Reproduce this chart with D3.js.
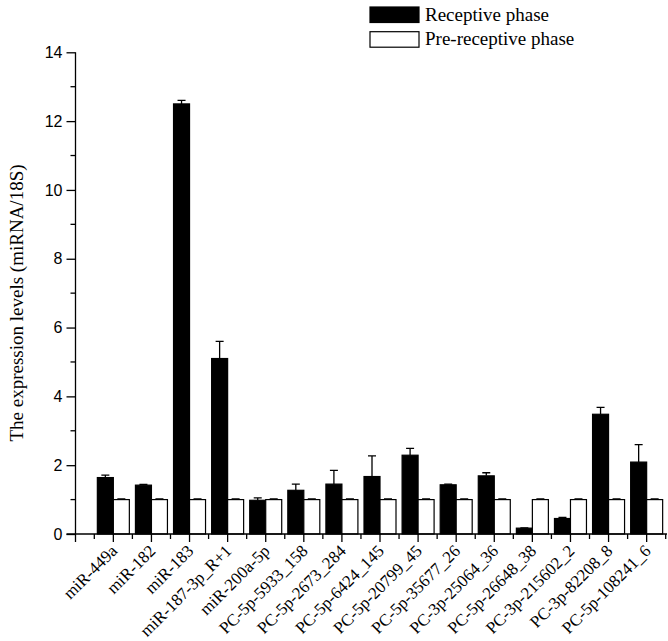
<!DOCTYPE html>
<html>
<head>
<meta charset="utf-8">
<script src="https://cdn.jsdelivr.net/npm/d3@7"></script>
<style>
  body { margin: 0; background: #fff; }
  svg { display: block; }
  .axis path, .axis line { stroke: #000; stroke-width: 1.3; }
  .axis text { font-family: "Liberation Sans", Arial, sans-serif; font-size: 16px; fill: #000; }
  .serif { font-family: "Liberation Serif", "Times New Roman", serif; fill: #000; }
</style>
</head>
<body>
<svg width="668" height="641"></svg>
<script>
// categories and series
var categories = ["miR-449a", "miR-182", "miR-183", "miR-187-3p_R+1", "miR-200a-5p",
  "PC-5p-5933_158", "PC-5p-2673_284", "PC-5p-6424_145", "PC-5p-20799_45", "PC-5p-35677_26",
  "PC-3p-25064_36", "PC-5p-26648_38", "PC-3p-215602_2", "PC-3p-82208_8", "PC-5p-108241_6"];
var receptive = [1.64, 1.42, 12.5, 5.1, 0.98, 1.27, 1.45, 1.67, 2.29, 1.43, 1.69, 0.17, 0.45, 3.48, 2.09];
var receptiveErr = [0.07, 0.02, 0.1, 0.5, 0.07, 0.18, 0.4, 0.6, 0.2, 0.02, 0.09, 0.01, 0.03, 0.2, 0.51];
var preReceptive = [1, 1, 1, 1, 1, 1, 1, 1, 1, 1, 1, 1, 1, 1, 1];
var preReceptiveErr = [0.02, 0.02, 0.02, 0.02, 0.02, 0.02, 0.02, 0.02, 0.02, 0.02, 0.02, 0.02, 0.02, 0.02, 0.02];
var seriesNames = ["Receptive phase", "Pre-receptive phase"];
var majorTicks = [0, 2, 4, 6, 8, 10, 12, 14];
var minorTicks = [1, 3, 5, 7, 9, 11, 13];

var svg = d3.select("svg");
var axisLeftX = 75.5, axisBottomY = 534, axisTopY = 52.3;

var x0 = d3.scaleBand().domain(categories).range([94.3, 665.7]).padding(0);
var x1 = d3.scaleBand().domain(seriesNames).range([x0.bandwidth() * 0.08, x0.bandwidth() * 0.92]);
var y = d3.scaleLinear().domain([0, 14]).range([axisBottomY, axisTopY]);
var fills = { "Receptive phase": "#000", "Pre-receptive phase": "#fff" };

var rows = categories.map(function(c, i) {
  return {
    cat: c,
    bars: [
      { key: seriesNames[0], value: receptive[i], err: receptiveErr[i] },
      { key: seriesNames[1], value: preReceptive[i], err: preReceptiveErr[i] }
    ]
  };
});

// bars
var group = svg.append("g").selectAll("g").data(rows).enter().append("g")
  .attr("transform", function(d) { return "translate(" + x0(d.cat) + ",0)"; });

// error bars (upward only)
group.selectAll(".err").data(function(d) { return d.bars; }).enter().append("path")
  .attr("class", "err")
  .attr("fill", "none").attr("stroke", "#000").attr("stroke-width", 1.3)
  .attr("d", function(d) {
    var cx = x1(d.key) + x1.bandwidth() / 2;
    var yt = y(d.value + d.err);
    return "M" + cx + "," + y(d.value) + "V" + yt + "M" + (cx - 4) + "," + yt + "H" + (cx + 4);
  });

group.selectAll("rect").data(function(d) { return d.bars; }).enter().append("rect")
  .attr("x", function(d) { return x1(d.key); })
  .attr("width", x1.bandwidth())
  .attr("y", function(d) { return y(d.value); })
  .attr("height", function(d) { return y(0) - y(d.value); })
  .attr("fill", function(d) { return fills[d.key]; })
  .attr("stroke", "#000").attr("stroke-width", 1.2);

// y axis
var yAxis = svg.append("g").attr("class", "axis")
  .attr("transform", "translate(" + axisLeftX + ",0)")
  .call(d3.axisLeft(y).tickValues(majorTicks).tickSize(9).tickPadding(4).tickSizeOuter(0));
yAxis.select(".domain").attr("d", "M0," + axisTopY + "V" + (axisBottomY + 8));
yAxis.selectAll(".minor").data(minorTicks).enter().append("line")
  .attr("class", "minor").attr("stroke", "#000").attr("stroke-width", 1.3)
  .attr("x1", -5).attr("x2", 0)
  .attr("y1", function(d) { return y(d); }).attr("y2", function(d) { return y(d); });

// x axis
var xAxis = svg.append("g").attr("class", "axis")
  .attr("transform", "translate(0," + axisBottomY + ")")
  .call(d3.axisBottom(x0).tickSize(8).tickSizeOuter(0).tickFormat(""));
xAxis.select(".domain").attr("d", "M" + (axisLeftX - 9) + ",0H667");
xAxis.selectAll(".minor").data(categories.concat([null])).enter().append("line")
  .attr("class", "minor").attr("stroke", "#000").attr("stroke-width", 1.3)
  .attr("y1", 0).attr("y2", 5)
  .attr("x1", function(d) { return d === null ? x0.range()[1] : x0(d); })
  .attr("x2", function(d) { return d === null ? x0.range()[1] : x0(d); });

// category labels, rotated
svg.append("g").selectAll("text").data(categories).enter().append("text")
  .attr("class", "serif")
  .attr("font-size", 17)
  .attr("text-anchor", "end")
  .attr("transform", function(d) {
    return "translate(" + (x0(d) + x0.bandwidth() / 2 + 5) + "," + (axisBottomY + 18) + ") rotate(-45)";
  })
  .text(function(d) { return d; });

// y title
svg.append("text").attr("class", "serif")
  .attr("font-size", 19)
  .attr("text-anchor", "middle")
  .attr("transform", "translate(23,303) rotate(-90)")
  .text("The expression levels (miRNA/18S)");

// legend
var legend = svg.append("g").selectAll("g").data(seriesNames).enter().append("g")
  .attr("transform", function(d, i) { return "translate(370," + (7 + i * 24.7) + ")"; });
legend.append("rect")
  .attr("width", 49).attr("height", 15.5)
  .attr("fill", function(d) { return fills[d]; })
  .attr("stroke", "#000").attr("stroke-width", 1.2);
legend.append("text").attr("class", "serif")
  .attr("font-size", 19)
  .attr("x", 55).attr("y", 13.5)
  .text(function(d) { return d; });
</script>
</body>
</html>
